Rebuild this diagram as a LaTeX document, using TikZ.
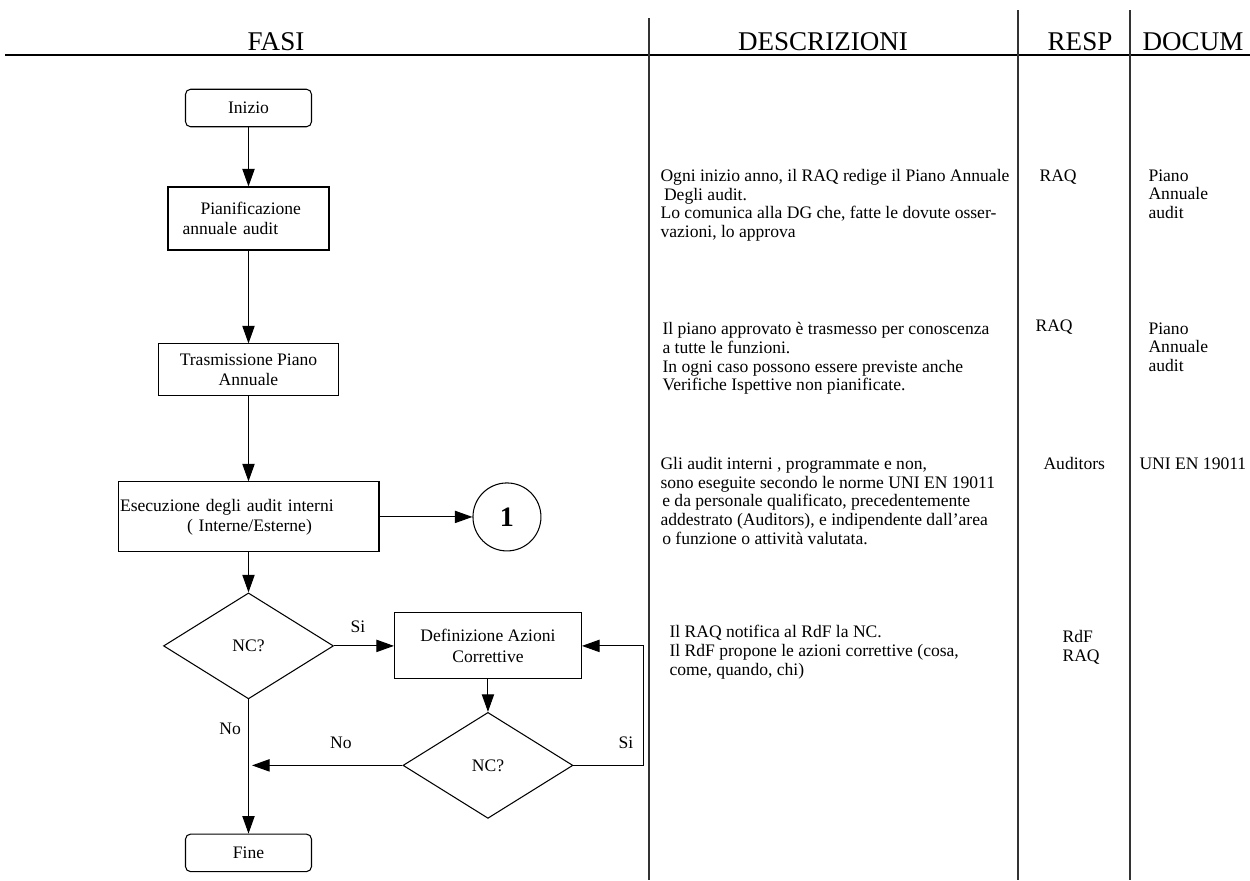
\documentclass[tikz,border=0pt]{standalone}
\usepackage{fontspec}
\setmainfont{Liberation Serif}
\usetikzlibrary{shapes.geometric, arrows.meta}
\tikzstyle{startstop} = [rectangle, rounded corners=0.1cm, minimum width=2.52cm, minimum height=0.75cm, text centered, draw=black, font=\fontsize{10}{11}\selectfont]
\tikzstyle{process} = [rectangle, align=center, draw=black, font=\fontsize{10}{11.5}\selectfont]
\tikzstyle{decision} = [diamond, minimum width=3.4cm, minimum height=2.12cm, inner sep=0pt, draw=black, font=\fontsize{10}{11}\selectfont]
\tikzstyle{connector} = [circle, minimum size=1.36cm, inner sep=0pt, draw=black, font=\bfseries\fontsize{16}{16}\selectfont]
\tikzstyle{arrow} = [-{Triangle[length=10pt, width=7pt]}]
\tikzstyle{header} = [anchor=base, inner sep=0pt, font=\fontsize{15.4}{18}\selectfont]
\tikzstyle{descr} = [anchor=north west, inner sep=0pt, align=left, font=\fontsize{10}{10.6}\selectfont]
\tikzstyle{lbl} = [inner sep=0pt, font=\fontsize{10}{11}\selectfont]
\tikzstyle{colline} = [line width=0.7pt, black!80]

\begin{document}
\begin{tikzpicture}[x=0.02cm, y=-0.02cm, node distance=2cm, line width=0.6pt]
\useasboundingbox (0,0) rectangle (1250,880);

% table head and columns
\draw [line width=1.1pt] (5,55) -- (1250,55);
\draw [colline] (649,18) -- (649,880);
\draw [colline] (1018,10) -- (1018,880);
\draw [colline] (1130,10) -- (1130,880);
\node (hfasi) [header] at (276,50) {FASI};
\node (hdescr) [header] at (823,50) {DESCRIZIONI};
\node (hresp) [header] at (1080,50) {RESP};
\node (hdocum) [header] at (1193,50) {DOCUM};

% flow
\node (inizio) [startstop] at (248.5,108) {Inizio};
\node (pianif) [process, below of=inizio, yshift=-0.21cm, minimum width=3.22cm, minimum height=1.26cm, align=left, text width=2.98cm] {\hspace*{0.53cm}Pianificazione\\\hspace*{0.17cm}annuale audit};
\node (trasm) [process, below of=pianif, yshift=-1.03cm, minimum width=3.6cm, minimum height=1.04cm] {Trasmissione Piano\\Annuale};
\node (esec) [process, below of=trasm, yshift=-0.94cm, minimum width=5.22cm, minimum height=1.4cm, align=left, text width=5.14cm, inner sep=1pt] {Esecuzione degli audit interni\\\hspace*{1.34cm}( Interne/Esterne)};
\node (conn1) [connector, right of=esec, xshift=3.17cm] {1};
\node (nc1) [decision, below of=esec, yshift=-0.58cm] {NC?};
\node (defin) [process, right of=nc1, xshift=2.79cm, minimum width=3.74cm, minimum height=1.32cm] {Definizione Azioni\\Correttive};
\node (nc2) [decision, below of=defin, yshift=-0.39cm] {NC?};
\node (fine) [startstop, below of=nc1, yshift=-2.14cm] {Fine};
\coordinate (merge) at (nc1 |- nc2);

\draw [arrow] (inizio) -- (pianif);
\draw [arrow] (pianif) -- (trasm);
\draw [arrow] (trasm) -- (esec);
\draw [arrow] (esec) -- (conn1);
\draw [arrow] (esec) -- (nc1);
\draw [arrow] (nc1) -- node[lbl, pos=0.4, above=7pt] {Si} (defin);
\draw [arrow] (defin) -- (nc2);
\draw [arrow] (nc1) -- node[lbl, pos=0.22, left=4pt] {No} (fine);
\draw [arrow, shorten >=2pt] (nc2) -- node[lbl, pos=0.4, above=9pt] {No} (merge);
\draw [arrow] (nc2.east) -- ++(70,0) node[lbl, pos=0.75, above=9pt] {Si} |- (defin.east);

% descriptions
\node (desc1) [descr] at (660,169) {Ogni inizio anno, il RAQ redige il Piano Annuale\\\hspace*{2pt}Degli audit.\\Lo comunica alla DG che, fatte le dovute osser-\\vazioni, lo approva};
\node (resp1) [descr] at (1039,169) {RAQ};
\node (doc1) [descr] at (1148,169) {Piano\\Annuale\\audit};

\node (desc2) [descr] at (662,322) {Il piano approvato è trasmesso per conoscenza\\a tutte le funzioni.\\In ogni caso possono essere previste anche\\Verifiche Ispettive non pianificate.};
\node (resp2) [descr] at (1035,319) {RAQ};
\node (doc2) [descr] at (1148,322) {Piano\\Annuale\\audit};

\node (desc3) [descr] at (660,457) {Gli audit interni , programmate e non,\\sono eseguite secondo le norme UNI EN 19011\\\hspace*{1pt}e da personale qualificato, precedentemente\\addestrato (Auditors), e indipendente dall'area\\\hspace*{1pt}o funzione o attività valutata.};
\node (resp3) [descr] at (1043,457) {Auditors};
\node (doc3) [descr] at (1139,457) {UNI EN 19011};

\node (desc4) [descr] at (669,625) {Il RAQ notifica al RdF la NC.\\Il RdF propone le azioni correttive (cosa,\\come, quando, chi)};
\node (resp4) [descr] at (1062,630) {RdF\\RAQ};

\end{tikzpicture}
\end{document}
